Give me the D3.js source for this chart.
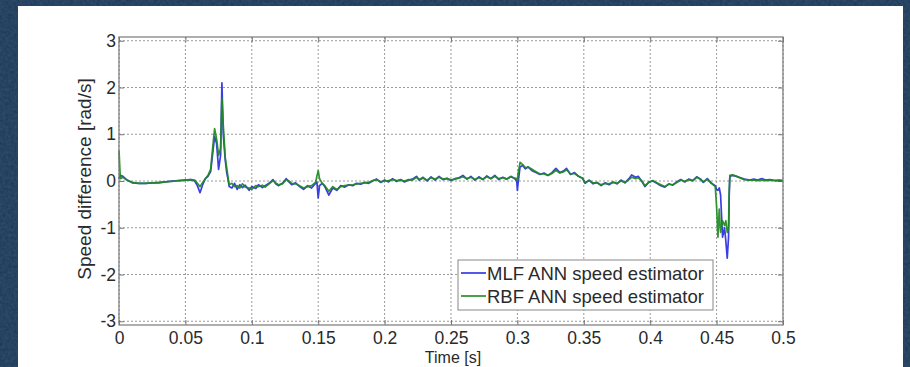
<!DOCTYPE html>
<html>
<head>
<meta charset="utf-8">
<script src="https://cdn.jsdelivr.net/npm/d3@7"></script>
<style>
  html, body { margin: 0; padding: 0; background: #1e3a5a; }
  svg { display: block; }
</style>
</head>
<body>
<script>
// ---- data ----
const seriesNames = ["MLF ANN speed estimator", "RBF ANN speed estimator"];
const xTicks = [0, 0.05, 0.1, 0.15, 0.2, 0.25, 0.3, 0.35, 0.4, 0.45, 0.5];
const yTicks = [-3, -2, -1, 0, 1, 2, 3];
const time = [0.000,0.001,0.003,0.006,0.010,0.015,0.020,0.025,0.030,0.035,0.040,0.045,0.050,0.054,0.057,0.059,0.061,0.063,0.065,0.067,0.069,0.071,0.072,0.0735,0.075,0.0765,0.0775,0.0785,0.080,0.081,0.082,0.083,0.085,0.087,0.089,0.091,0.093,0.095,0.098,0.100,0.103,0.105,0.108,0.110,0.113,0.116,0.118,0.120,0.123,0.126,0.128,0.130,0.133,0.136,0.139,0.142,0.145,0.148,0.149,0.150,0.151,0.153,0.155,0.158,0.161,0.164,0.167,0.170,0.173,0.176,0.179,0.182,0.185,0.188,0.191,0.194,0.197,0.200,0.203,0.206,0.209,0.212,0.215,0.218,0.221,0.224,0.226,0.229,0.232,0.235,0.238,0.241,0.244,0.247,0.250,0.253,0.256,0.259,0.262,0.265,0.268,0.271,0.274,0.277,0.280,0.283,0.286,0.289,0.292,0.295,0.298,0.2995,0.300,0.3005,0.302,0.304,0.306,0.308,0.311,0.314,0.317,0.320,0.323,0.326,0.329,0.332,0.335,0.337,0.340,0.343,0.346,0.349,0.351,0.354,0.357,0.360,0.363,0.366,0.369,0.372,0.375,0.378,0.381,0.384,0.386,0.389,0.391,0.394,0.396,0.399,0.402,0.405,0.408,0.411,0.414,0.417,0.420,0.423,0.426,0.429,0.432,0.435,0.438,0.440,0.443,0.446,0.449,0.450,0.451,0.452,0.453,0.4545,0.456,0.457,0.458,0.459,0.4595,0.460,0.462,0.465,0.468,0.471,0.475,0.478,0.481,0.484,0.487,0.490,0.494,0.497,0.500];
const mlf = [0.05,0.12,0.10,0.02,-0.04,-0.05,-0.05,-0.04,-0.04,-0.02,0.00,0.01,0.02,0.03,0.00,-0.10,-0.25,-0.08,0.05,0.10,0.20,0.70,0.95,0.80,0.25,0.55,2.10,1.00,0.45,0.20,0.05,-0.12,-0.15,-0.05,-0.18,-0.08,-0.14,-0.09,-0.20,-0.12,-0.16,-0.08,-0.14,-0.10,-0.05,0.03,-0.06,-0.10,-0.05,0.05,-0.02,-0.08,-0.04,-0.12,-0.18,-0.10,-0.15,-0.05,-0.02,-0.36,-0.10,-0.05,-0.12,-0.30,-0.15,-0.20,-0.10,-0.13,-0.08,-0.10,-0.05,-0.07,-0.03,-0.05,0.00,0.04,-0.03,0.02,-0.02,0.05,-0.01,0.03,-0.02,0.02,0.04,0.10,0.02,0.08,0.00,0.09,0.02,0.10,0.03,0.06,0.01,0.05,0.07,0.12,0.04,0.10,0.02,0.09,0.03,0.11,0.05,0.12,0.03,0.08,0.04,0.10,0.05,0.00,-0.20,-0.05,0.30,0.33,0.26,0.30,0.22,0.18,0.14,0.17,0.12,0.18,0.27,0.18,0.22,0.27,0.14,0.18,0.10,0.06,-0.05,0.02,-0.06,-0.03,-0.10,-0.04,-0.08,-0.02,-0.06,0.02,-0.04,0.05,0.13,0.08,0.10,-0.02,-0.12,-0.02,0.00,-0.05,-0.10,-0.13,-0.06,-0.09,-0.02,0.03,-0.02,0.04,0.01,0.09,0.04,-0.03,0.05,-0.05,-0.10,-0.18,-0.20,-0.15,-0.30,-1.20,-1.00,-1.30,-1.65,-1.20,-0.30,0.10,0.12,0.10,0.07,0.04,0.02,0.04,0.02,0.05,0.02,0.03,0.01,0.02,0.01];
const rbf = [0.65,0.05,0.08,0.02,-0.03,-0.05,-0.05,-0.04,-0.03,-0.02,-0.01,0.01,0.02,0.03,0.02,-0.05,-0.12,-0.03,0.05,0.12,0.25,0.85,1.12,0.90,0.55,0.70,1.78,1.20,0.50,0.30,0.10,-0.08,-0.05,-0.12,-0.10,-0.15,-0.06,-0.13,-0.15,-0.18,-0.10,-0.12,-0.09,-0.13,-0.06,0.01,-0.04,-0.08,-0.06,0.03,0.00,-0.05,-0.06,-0.10,-0.15,-0.12,-0.10,-0.03,0.10,0.22,0.05,-0.05,-0.10,-0.22,-0.12,-0.18,-0.12,-0.10,-0.09,-0.08,-0.06,-0.05,-0.04,-0.03,0.01,0.03,-0.02,0.00,0.01,0.03,0.01,0.02,0.00,0.03,0.02,0.08,0.03,0.06,0.02,0.07,0.04,0.08,0.04,0.05,0.02,0.04,0.06,0.09,0.05,0.08,0.03,0.07,0.04,0.09,0.05,0.10,0.05,0.07,0.04,0.09,0.06,0.05,0.00,0.15,0.40,0.35,0.28,0.30,0.25,0.20,0.15,0.15,0.12,0.16,0.23,0.17,0.20,0.24,0.15,0.16,0.10,0.06,-0.03,0.01,-0.04,-0.04,-0.08,-0.05,-0.06,-0.03,-0.05,0.00,-0.03,0.03,0.08,0.05,0.07,-0.01,-0.10,-0.03,0.01,-0.04,-0.08,-0.12,-0.07,-0.08,-0.03,0.02,-0.01,0.03,0.00,0.08,0.03,-0.02,0.04,-0.04,-0.12,-0.55,-1.20,-0.60,-1.10,-0.85,-0.95,-0.85,-1.10,-1.00,-0.20,0.12,0.13,0.10,0.06,0.03,0.02,0.02,0.01,0.02,0.01,0.02,0.01,0.01,0.01];
const seriesColors = ["#2a2ee0", "#1f8a1f"];

// ---- drawing ----
const W = 910, H = 367;
const FONT = "'Liberation Sans', Arial, sans-serif";
const svg = d3.select("body").append("svg").attr("width", W).attr("height", H);

// dark textured backdrop
const defs = svg.append("defs");
const filt = defs.append("filter").attr("id", "tex").attr("x", 0).attr("y", 0).attr("width", "100%").attr("height", "100%");
filt.append("feTurbulence").attr("type", "fractalNoise").attr("baseFrequency", 0.35).attr("numOctaves", 2).attr("seed", 3).attr("result", "n");
filt.append("feColorMatrix").attr("in", "n").attr("type", "matrix")
  .attr("values", "0 0 0 0 0.12  0 0 0 0 0.23  0 0 0 0 0.36  0 0 0 0.55 0").attr("result", "c");
svg.append("rect").attr("width", W).attr("height", H).attr("fill", "#1c3756");
svg.append("rect").attr("width", W).attr("height", H).attr("filter", "url(#tex)").attr("opacity", 0.6);

// white panel
svg.append("rect").attr("x", 18).attr("y", 6).attr("width", 885).attr("height", H - 6).attr("fill", "#ffffff");

const plot = { left: 119, right: 783, top: 37, bottom: 325 };
const x = d3.scaleLinear().domain([0, 0.5]).range([plot.left, plot.right]);
const y = d3.scaleLinear().domain([-3.08, 3.08]).range([plot.bottom, plot.top]);

const g = svg.append("g");

// grid
g.selectAll(".vg").data(xTicks).join("line")
  .attr("x1", d => x(d)).attr("x2", d => x(d))
  .attr("y1", plot.top).attr("y2", plot.bottom)
  .attr("stroke", "#9a9a9a").attr("stroke-width", 1).attr("stroke-dasharray", "2,2");
g.selectAll(".hg").data(yTicks).join("line")
  .attr("x1", plot.left).attr("x2", plot.right)
  .attr("y1", d => y(d)).attr("y2", d => y(d))
  .attr("stroke", "#9a9a9a").attr("stroke-width", 1).attr("stroke-dasharray", "2,2");

// axes with D3 axis generators (inner ticks)
const fmt = d => String(d);
const axB = g.append("g").attr("transform", `translate(0,${plot.bottom})`)
  .call(d3.axisBottom(x).tickValues(xTicks).tickFormat(fmt).tickSizeInner(-5).tickSizeOuter(0));
const axL = g.append("g").attr("transform", `translate(${plot.left},0)`)
  .call(d3.axisLeft(y).tickValues(yTicks).tickFormat(fmt).tickSizeInner(-5).tickSizeOuter(0));
const axT = g.append("g").attr("transform", `translate(0,${plot.top})`)
  .call(d3.axisTop(x).tickValues(xTicks).tickFormat("").tickSizeInner(-5).tickSizeOuter(0));
const axR = g.append("g").attr("transform", `translate(${plot.right},0)`)
  .call(d3.axisRight(y).tickValues(yTicks).tickFormat("").tickSizeInner(-5).tickSizeOuter(0));
[axB, axL, axT, axR].forEach(a => {
  a.select(".domain").remove();
  a.selectAll(".tick line").attr("stroke", "#777");
  a.selectAll("text").attr("fill", "#2a2a2a")
    .style("font-family", FONT).style("font-size", "17.5px");
});
axB.selectAll("text").attr("dy", null).attr("y", 19);
axL.selectAll("text").attr("x", -3);

// lines
const line = d3.line().x(d => x(d[0])).y(d => y(d[1]));
const seriesData = [mlf, rbf].map(vals => time.map((t, i) => [t, vals[i]]));
const lineG = g.append("g");
seriesData.forEach((pts, k) => {
  lineG.append("path").datum(pts)
    .attr("d", line).attr("fill", "none")
    .attr("stroke", seriesColors[k]).attr("stroke-width", 1.7)
    .attr("stroke-linejoin", "round").attr("opacity", 0.92);
});

// box
g.append("rect").attr("x", plot.left).attr("y", plot.top)
  .attr("width", plot.right - plot.left).attr("height", plot.bottom - plot.top)
  .attr("fill", "none").attr("stroke", "#7a7a7a").attr("stroke-width", 1.2);

// axis labels
svg.append("text").attr("x", 453).attr("y", 363).attr("text-anchor", "middle")
  .attr("fill", "#2a2a2a").style("font-family", FONT).style("font-size", "16px")
  .text("Time [s]");
svg.append("text").attr("transform", "translate(91,179) rotate(-90)").attr("text-anchor", "middle")
  .attr("fill", "#2a2a2a").style("font-family", FONT).style("font-size", "19px")
  .text("Speed difference [rad/s]");

// legend
const leg = svg.append("g").attr("transform", "translate(458,260)");
leg.append("rect").attr("width", 255).attr("height", 50).attr("fill", "#fff").attr("stroke", "#888").attr("stroke-width", 1);
seriesNames.forEach((name, i) => {
  const yy = 13 + i * 23;
  leg.append("line").attr("x1", 3).attr("x2", 28).attr("y1", yy).attr("y2", yy)
    .attr("stroke", seriesColors[i]).attr("stroke-width", 1.6);
  leg.append("text").attr("x", 29).attr("y", yy + 7)
    .attr("fill", "#2a2a2a").style("font-family", FONT).style("font-size", "18.5px")
    .text(name);
});
</script>
</body>
</html>
